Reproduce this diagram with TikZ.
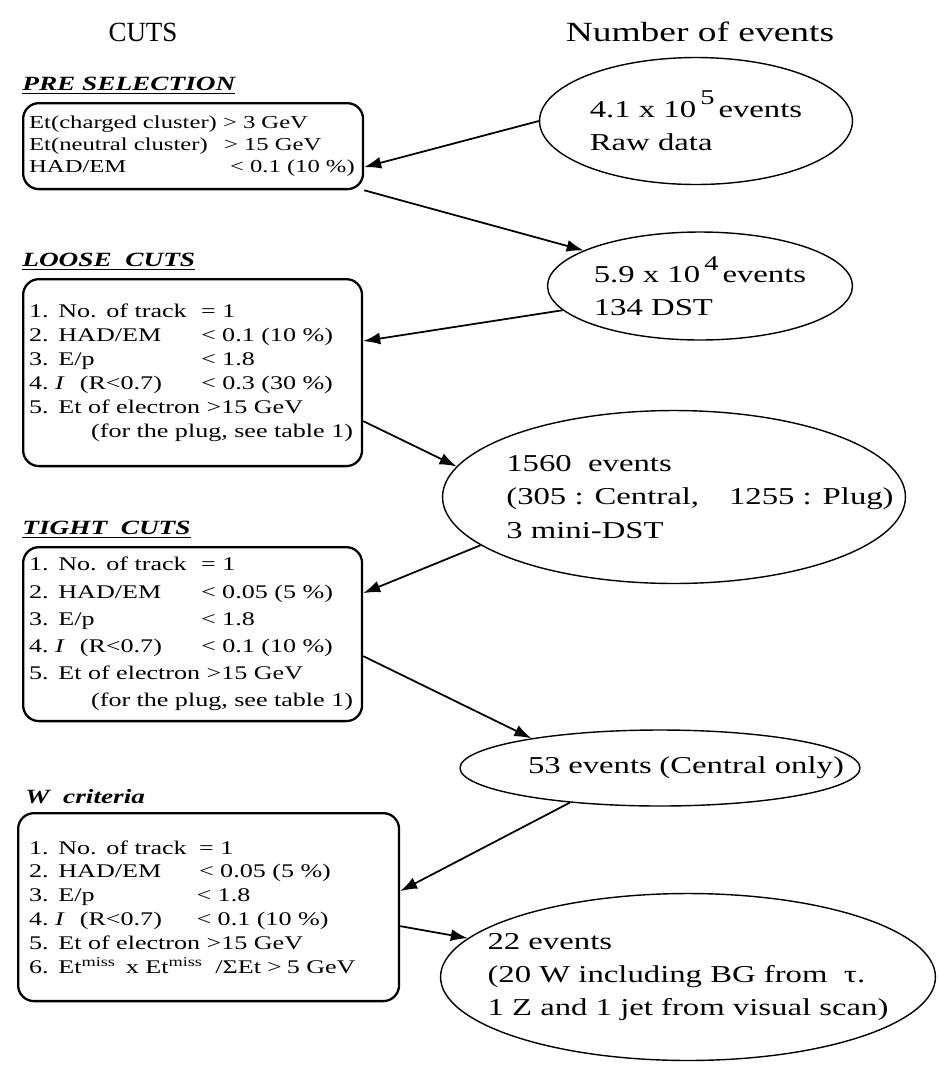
\documentclass[tikz,border=0pt]{standalone}
\usepackage{fontspec}
\setmainfont[FakeStretch=1.35]{Liberation Serif}
\usepackage{tikz}
\usetikzlibrary{arrows.meta,shapes.geometric}

\newcommand{\cutcol}[2][3.44cm]{\makebox[#1][l]{#2}}
\newcommand{\pad}{\hspace*{1.04cm}}

\begin{document}
\begin{tikzpicture}[x=0.02cm, y=-0.02cm,
    cutbox/.style={draw, line width=1.3pt, rounded corners=9pt, anchor=north west,
      align=left, inner ysep=0pt, font=\fontsize{11}{#1}\selectfont},
    cutbox/.default=13.6pt,
    evtbox/.style={ellipse, draw, thick, inner sep=0pt},
    evttext/.style={align=left, inner sep=0pt, font=\fontsize{13.8}{19}\selectfont},
    heading/.style={anchor=west, inner sep=0pt, font=\fontsize{11.5}{13}\selectfont\bfseries\itshape},
    coltitle/.style={font=\fontsize{15.8}{18}\selectfont},
    flow/.style={-{Latex[length=3.4mm,width=2.4mm]}, line width=1pt}
  ]
  \useasboundingbox (0,0) rectangle (939,1066);

  % column titles
  \node[coltitle] (cuts) at (143,32) {\scalebox{0.72}[1]{CUTS}};
  \node[coltitle] (nevt) at (700,32) {Number of events};

  % cuts
  \node[heading] (preh) at (22,86) {\underline{PRE\ SELECTION}};
  \node[cutbox=12.5pt, font=\fontsize{10.4}{12.5}\selectfont, inner xsep=0.12cm, text width=6.56cm,
    minimum height=1.72cm] (pre) at (22,102) {%
    \mbox{Et(charged cluster) > 3 GeV}\\
    \mbox{\cutcol[3.9cm]{Et(neutral cluster)}> 15 GeV}\\
    \mbox{\cutcol[4.02cm]{HAD/EM}< 0.1 (10 \%)}};

  \node[heading] (looseh) at (22,262) {\underline{LOOSE\ \ CUTS}};
  \node[cutbox, inner xsep=0.12cm, text width=6.54cm, minimum height=3.74cm] (loose) at (22,278) {%
    \cutcol{1. No. of track}= 1\\
    \cutcol{2. HAD/EM}< 0.1 (10 \%)\\
    \cutcol{3. E/p}< 1.8\\
    \cutcol{4.\ \textit{I}\hspace{0.3cm}(R<0.7)}< 0.3 (30 \%)\\
    5. Et of electron >15 GeV\\
    \hspace*{1.24cm}\mbox{(for the plug, see table 1)}};

  \node[heading] (tighth) at (22,530) {\underline{TIGHT\ \ CUTS}};
  \node[cutbox=15.5pt, inner xsep=0.12cm, text width=6.54cm, minimum height=3.48cm] (tight) at (22,546) {%
    \cutcol{1. No. of track}= 1\\
    \cutcol{2. HAD/EM}< 0.05 (5 \%)\\
    \cutcol{3. E/p}< 1.8\\
    \cutcol{4.\ \textit{I}\hspace{0.3cm}(R<0.7)}< 0.1 (10 \%)\\
    5. Et of electron >15 GeV\\
    \hspace*{1.24cm}\mbox{(for the plug, see table 1)}};

  \node[heading] (wh) at (25,797) {W\ \ criteria};
  \node[cutbox, inner xsep=0.22cm, text width=7.18cm, minimum height=3.76cm] (wcrit) at (17,812) {%
    \cutcol[3.4cm]{1. No. of track}= 1\\
    \cutcol[3.4cm]{2. HAD/EM}< 0.05 (5 \%)\\
    \cutcol[3.35cm]{3. E/p}< 1.8\\
    \cutcol[3.35cm]{4.\ \textit{I}\hspace{0.3cm}(R<0.7)}< 0.1 (10 \%)\\
    5. Et of electron >15 GeV\\
    6. Et\textsuperscript{miss}\hspace{0.2cm}x Et\textsuperscript{miss}\hspace{0.25cm}/ΣEt\hspace{0.12cm}>\hspace{0.1cm}5 GeV};

  % events
  \node[evtbox, minimum width=6.26cm, minimum height=2.54cm] (e1) at (696,121) {};
  \node[evttext] (e1txt) at (e1.center) {4.1 x 10\,\raisebox{1.1ex}{\fontsize{12}{12}\selectfont 5}\,events\\Raw data};

  \node[evtbox, minimum width=6.1cm, minimum height=2.16cm] (e2) at (700,286) {};
  \node[evttext] (e2txt) at (e2.center) {5.9 x 10\,\raisebox{1.1ex}{\fontsize{12}{12}\selectfont 4}\,events\\134 DST};

  \node[evtbox, minimum width=9.26cm, minimum height=3.46cm] (e3) at (674,497) {};
  \node[evttext] (e3txt) at (e3.center) {\pad 1560\ \ events\\
    \pad (305 : Central,\hspace{0.6cm}1255 : Plug)\\
    \pad 3 mini-DST};

  \node[evtbox, minimum width=8cm, minimum height=1.52cm] (e4) at (660,768) {};
  \node[evttext] (e4txt) at (e4.center) {\pad 53\hspace{0.15cm}events\hspace{0.15cm}(Central only)};

  \node[evtbox, minimum width=9.9cm, minimum height=3.34cm] (e5) at (688,977) {};
  \node[evttext] (e5txt) at (e5.center) {22 events\\
    (20 W including BG from\ \ τ.\\
    1 Z and 1 jet from visual scan)};

  % flow between cuts and event counts
  \draw[flow] (e1.west) -- ([yshift=-0.42cm]pre.east);
  \draw[flow] (pre.south east) -- (e2.163);
  \draw[flow] (e2.190) -- ([yshift=0.63cm]loose.east);
  \draw[flow] ([yshift=-0.97cm]loose.east) -- (e3.172);
  \draw[flow] (e3.194) -- ([yshift=0.82cm]tight.east);
  \draw[flow] ([yshift=-0.44cm]tight.east) -- (e4.167);
  \draw[flow] (e4.201) -- ([yshift=0.32cm]wcrit.east);
  \draw[flow] ([yshift=-0.38cm]wcrit.east) -- (e5.170);
\end{tikzpicture}
\end{document}
